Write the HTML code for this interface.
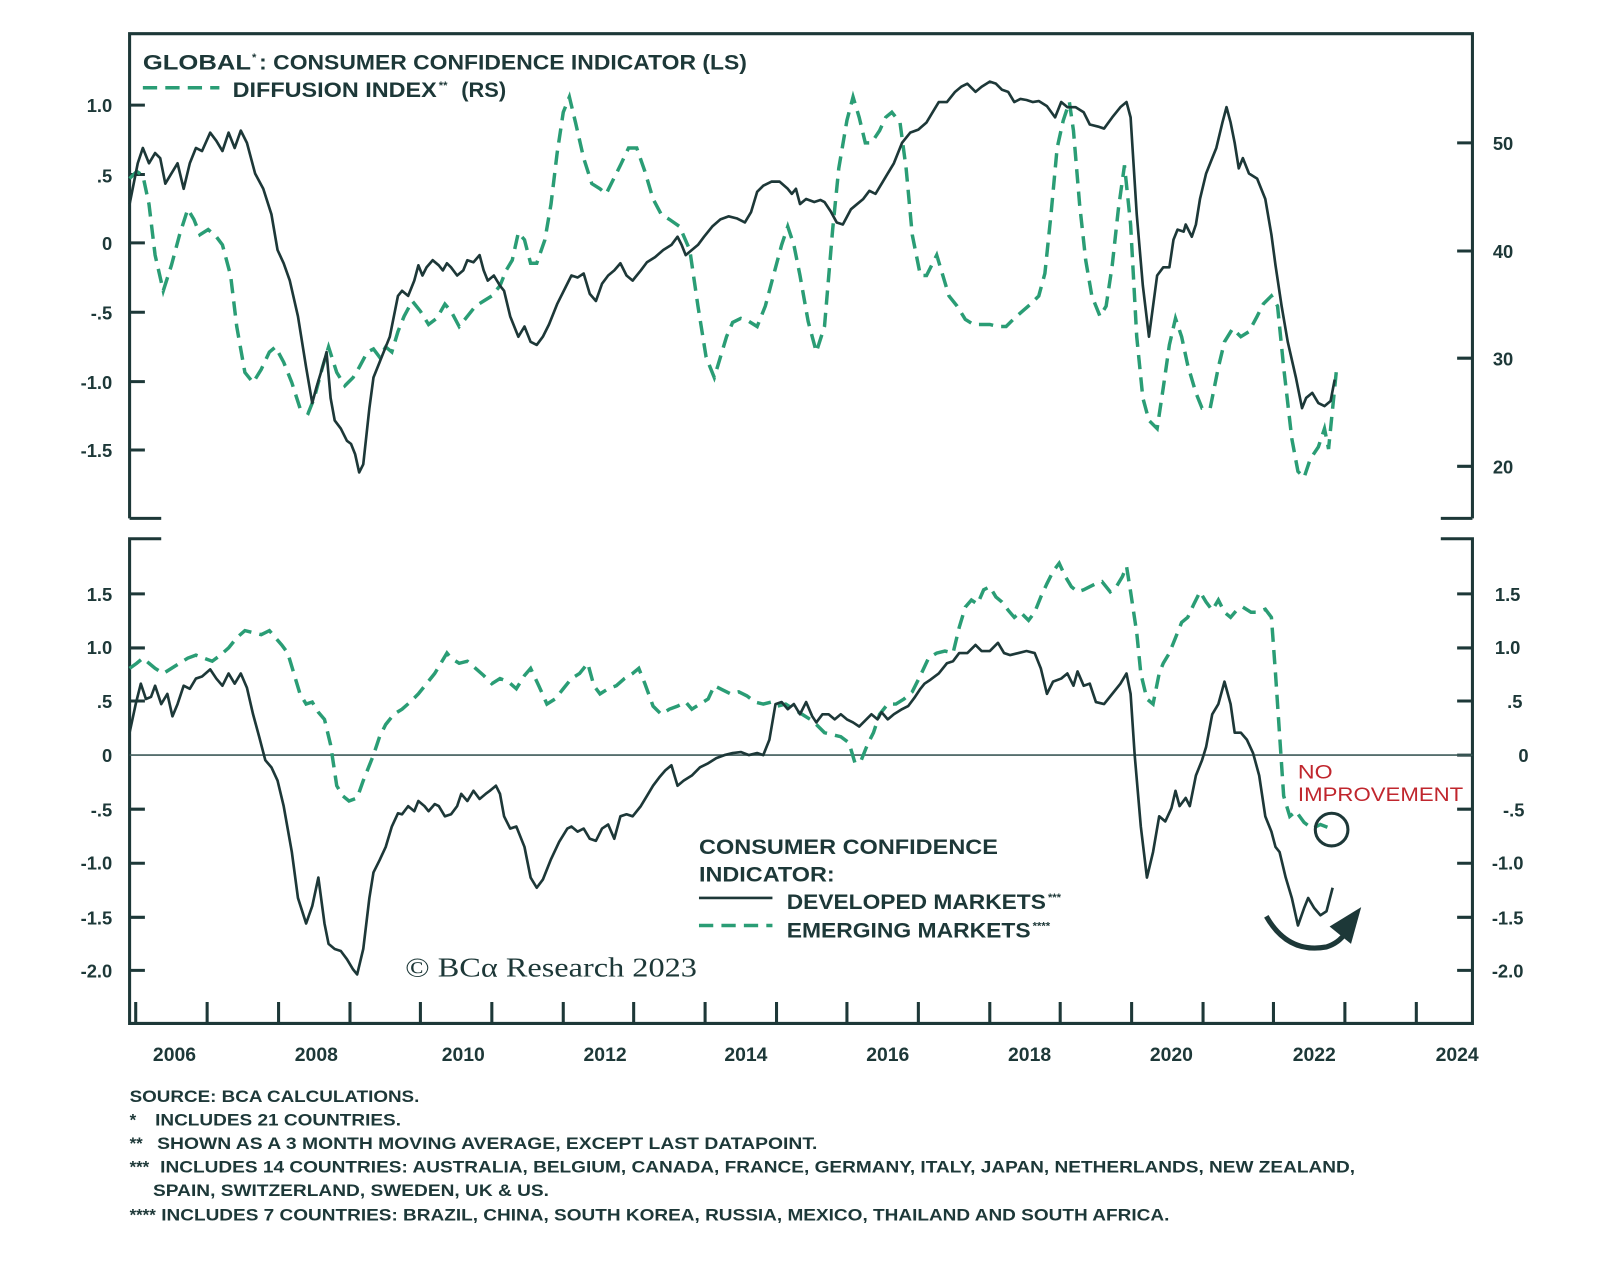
<!DOCTYPE html>
<html><head><meta charset="utf-8"><style>
html,body{margin:0;padding:0;background:#fff;}
svg{display:block;}
text{font-family:"Liberation Sans",sans-serif;fill:#1d3838;}
</style></head><body>
<svg width="1600" height="1288" viewBox="0 0 1600 1288" xmlns="http://www.w3.org/2000/svg">
<g transform="scale(1.0204)">
<g stroke="#1d3838" stroke-width="3" fill="none">
<path d="M127,508 V33 H1443 V508"/>
<path d="M127,508 H158 M1443,508 H1412"/>
<path d="M127,103 H142 M127,171 H142 M127,238 H142 M127,306 H142 M127,374 H142 M127,441 H142"/>
<path d="M1443,140 H1428 M1443,246 H1428 M1443,351 H1428 M1443,457 H1428"/>
<path d="M158,528 H127 V1003 H1443 V528 H1412"/>
<path d="M127,582 H142 M127,635 H142 M127,687 H142 M127,793 H142 M127,846 H142 M127,899 H142 M127,951 H142"/>
<path d="M1443,582 H1428 M1443,635 H1428 M1443,687 H1428 M1443,740 H1428 M1443,793 H1428 M1443,846 H1428 M1443,899 H1428 M1443,951 H1428"/>
<path d="M133,1003 V982 M203,1003 V982 M273,1003 V982 M343,1003 V982 M412,1003 V982 M482,1003 V982 M552,1003 V982 M621,1003 V982 M691,1003 V982 M761,1003 V982 M830,1003 V982 M900,1003 V982 M970,1003 V982 M1039,1003 V982 M1109,1003 V982 M1179,1003 V982 M1248,1003 V982 M1318,1003 V982 M1388,1003 V982"/>
</g>
<line x1="127" y1="740" x2="1443" y2="740" stroke="#3d5a58" stroke-width="1.6"/>

<polyline fill="none" stroke="#2a9d75" stroke-width="3.4" stroke-dasharray="14,8" points="127,175 134,168 140,172 146,200 152,250 160,285 168,260 176,230 184,205 190,215 196,230 204,225 212,232 218,240 226,270 232,320 240,365 248,375 256,362 264,345 270,340 278,355 286,375 294,400 302,405 308,390 316,360 322,340 330,365 338,378 346,370 352,360 360,345 366,342 372,350 378,340 384,345 390,325 396,310 404,295 412,305 420,318 428,312 436,298 442,305 450,320 458,310 466,300 474,295 482,290 490,280 496,265 502,255 508,228 514,235 520,258 526,258 534,235 540,200 546,150 552,110 558,95 564,120 572,155 580,180 588,185 594,190 600,178 608,162 616,145 624,145 632,168 640,195 648,210 656,215 666,222 676,245 684,300 692,350 700,370 706,350 712,330 718,316 726,312 734,315 742,320 750,300 758,270 766,240 772,222 778,240 784,270 792,315 800,345 808,320 816,225 822,165 830,118 836,95 842,115 848,140 854,140 862,128 868,115 874,110 882,120 888,165 894,230 902,270 908,270 914,258 918,250 924,270 930,290 938,300 946,313 954,318 962,318 970,318 978,320 986,320 994,312 1002,305 1010,298 1018,290 1024,268 1030,210 1036,145 1042,118 1048,100 1052,128 1058,200 1064,255 1070,290 1078,310 1084,300 1090,260 1096,205 1102,162 1108,220 1114,330 1120,390 1126,412 1134,420 1140,380 1146,338 1152,312 1158,330 1164,358 1172,385 1178,400 1186,400 1194,360 1200,335 1208,322 1216,330 1224,325 1232,310 1238,298 1246,290 1252,300 1258,360 1266,430 1272,462 1278,468 1284,450 1292,438 1298,420 1302,440 1306,400 1310,360"/>
<polyline fill="none" stroke="#1d3838" stroke-width="2.6" stroke-linejoin="round" points="127,200 135,160 140,145 146,160 152,150 157,155 162,180 168,170 174,160 180,185 186,160 192,145 198,148 206,130 212,138 218,148 224,130 230,145 236,128 242,140 250,170 258,185 266,210 272,245 278,258 284,275 292,310 300,360 306,395 310,380 316,360 320,345 324,390 328,412 334,420 340,432 344,435 348,445 352,463 356,455 362,400 366,370 372,355 378,340 382,330 390,290 394,285 400,290 406,275 410,260 414,270 418,262 424,255 430,260 434,265 438,258 442,262 448,270 454,265 458,255 464,257 470,250 474,265 478,275 484,270 490,280 494,285 500,310 508,330 514,320 520,335 526,338 532,330 538,318 546,298 554,282 560,270 566,272 572,268 578,288 584,295 590,278 596,270 602,265 608,258 614,270 620,275 628,265 634,257 642,252 650,245 658,240 664,232 668,240 672,250 678,245 684,240 690,232 698,222 706,215 714,212 722,214 730,218 736,208 742,188 748,182 756,178 764,178 772,185 776,190 780,185 784,200 790,195 798,198 804,196 808,198 814,207 820,218 826,220 834,205 840,200 846,195 852,187 858,190 864,180 870,170 876,160 884,140 892,130 900,127 908,120 914,110 920,100 928,100 936,90 942,85 948,82 956,90 962,85 970,80 976,82 982,88 988,90 994,100 1000,97 1006,98 1012,100 1018,99 1026,104 1034,115 1040,100 1046,105 1054,105 1062,110 1068,122 1076,124 1082,126 1090,115 1098,105 1104,100 1108,115 1114,210 1120,280 1126,330 1130,300 1134,270 1140,262 1146,262 1150,235 1154,225 1160,227 1162,220 1168,232 1172,220 1176,195 1182,170 1188,155 1192,145 1198,120 1202,105 1206,120 1210,140 1214,165 1218,155 1224,170 1232,175 1240,195 1246,230 1250,260 1256,300 1262,335 1270,370 1276,400 1280,390 1286,385 1292,395 1298,398 1304,393 1308,372"/>

<polyline fill="none" stroke="#2a9d75" stroke-width="3.4" stroke-dasharray="14,8" points="127,655 134,650 140,645 146,650 152,655 160,660 168,655 176,650 184,645 192,642 200,645 208,648 216,642 224,635 232,625 240,618 248,620 256,622 264,618 270,625 276,632 282,640 288,660 294,680 300,690 306,688 312,698 318,705 324,730 330,770 336,780 342,785 350,782 356,765 362,750 366,740 372,722 378,710 386,700 394,695 402,688 410,680 418,670 426,660 432,650 438,640 442,645 450,650 458,648 466,655 474,662 482,670 490,665 498,668 506,675 514,662 520,655 528,672 536,690 544,685 552,675 560,665 568,660 576,650 582,672 588,680 596,675 604,672 612,665 620,660 626,655 632,670 640,692 648,700 656,695 664,692 672,688 678,695 686,690 694,685 700,672 708,676 716,680 724,678 732,682 740,688 748,690 756,688 762,692 770,690 778,695 786,700 794,705 800,710 808,718 816,720 824,722 832,728 838,748 844,745 850,730 856,718 862,700 870,690 878,690 886,685 894,678 902,662 910,645 918,640 926,638 934,640 940,615 946,595 952,588 958,592 964,578 970,575 976,585 982,590 988,598 994,605 1000,600 1008,608 1014,600 1020,585 1026,572 1032,560 1038,552 1044,565 1050,575 1056,580 1062,578 1068,575 1074,572 1080,570 1088,580 1094,575 1100,565 1104,555 1108,580 1114,620 1118,660 1124,685 1130,690 1136,660 1140,650 1146,640 1152,625 1158,610 1164,605 1170,592 1176,580 1182,590 1188,598 1194,588 1200,600 1206,605 1212,598 1218,595 1226,600 1232,600 1240,597 1246,605 1250,660 1254,720 1258,780 1264,800 1270,795 1278,806 1286,812 1294,808 1304,812"/>
<polyline fill="none" stroke="#1d3838" stroke-width="2.6" stroke-linejoin="round" points="127,718 133,690 138,670 143,685 148,683 152,672 158,690 164,680 169,702 174,690 180,672 186,675 192,665 198,663 206,656 212,665 218,672 224,660 230,670 236,660 242,674 248,700 254,722 260,745 266,752 272,765 278,790 286,835 292,880 300,905 306,888 312,860 318,905 322,925 328,930 334,932 340,940 346,950 350,955 356,930 362,880 366,855 372,843 378,830 384,810 390,797 394,798 400,790 406,795 410,785 416,790 420,795 426,788 430,790 436,800 442,798 448,790 452,778 458,785 464,775 470,783 476,778 480,775 486,770 490,778 494,800 500,812 506,810 514,830 520,860 526,870 532,862 540,842 548,825 556,812 560,810 566,815 572,812 578,822 584,824 590,812 596,808 602,822 608,800 614,798 620,800 628,790 634,780 640,770 646,762 652,755 658,750 664,770 670,765 678,760 686,752 694,748 702,743 710,740 718,738 726,737 734,740 742,738 748,740 754,725 760,690 766,688 772,695 778,690 784,700 790,688 796,702 800,708 806,700 812,700 818,705 824,700 830,705 836,708 842,712 848,706 854,700 860,705 864,698 870,705 876,700 884,695 890,692 896,684 902,675 906,670 912,666 920,660 928,650 934,648 940,640 948,640 956,632 962,638 970,638 978,630 984,640 990,642 998,640 1006,638 1014,640 1020,655 1026,680 1032,668 1040,665 1046,660 1052,672 1056,658 1062,672 1068,670 1074,688 1082,690 1090,680 1098,670 1104,660 1108,680 1112,740 1118,810 1124,860 1130,835 1136,800 1142,805 1148,792 1152,775 1156,790 1162,782 1166,790 1172,760 1178,745 1182,732 1188,700 1194,690 1200,668 1206,690 1210,718 1216,718 1222,725 1228,738 1234,760 1240,800 1246,815 1250,830 1254,835 1260,860 1266,880 1272,907 1278,890 1282,880 1288,890 1294,897 1300,893 1306,870"/>

<circle cx="1305" cy="813" r="16" fill="none" stroke="#1d3838" stroke-width="3"/>
<path d="M1241,898 Q1262,935 1300,928 Q1312,924 1318,915" fill="none" stroke="#1d3838" stroke-width="5"/>
<path d="M1303,908 L1334,889 L1324,925 Z" fill="#1d3838"/>
<text x="1272" y="763" font-size="19" textLength="34" lengthAdjust="spacingAndGlyphs" style="fill:#c0262d">NO</text>
<text x="1272" y="785" font-size="19" textLength="162" lengthAdjust="spacingAndGlyphs" style="fill:#c0262d">IMPROVEMENT</text>

<g font-size="20.5" font-weight="bold">
<text x="140" y="68" textLength="106" lengthAdjust="spacingAndGlyphs">GLOBAL</text>
<text x="247" y="60" font-size="11">*</text>
<text x="254" y="68" textLength="478" lengthAdjust="spacingAndGlyphs">: CONSUMER CONFIDENCE INDICATOR (LS)</text>
<text x="228" y="95" textLength="200" lengthAdjust="spacingAndGlyphs">DIFFUSION INDEX</text>
<text x="430" y="87" font-size="11">**</text>
<text x="452" y="95" textLength="44" lengthAdjust="spacingAndGlyphs">(RS)</text>
<text x="685" y="837" textLength="293" lengthAdjust="spacingAndGlyphs">CONSUMER CONFIDENCE</text>
<text x="685" y="864" textLength="133" lengthAdjust="spacingAndGlyphs">INDICATOR:</text>
<text x="771" y="891" textLength="254" lengthAdjust="spacingAndGlyphs">DEVELOPED MARKETS</text>
<text x="1027" y="883" font-size="11">***</text>
<text x="771" y="919" textLength="239" lengthAdjust="spacingAndGlyphs">EMERGING MARKETS</text>
<text x="1012" y="911" font-size="11">****</text>
</g>
<line x1="140" y1="86" x2="215" y2="86" stroke="#2a9d75" stroke-width="3.4" stroke-dasharray="14,8"/>
<line x1="685" y1="880" x2="757" y2="880" stroke="#1d3838" stroke-width="2.6"/>
<line x1="685" y1="907" x2="757" y2="907" stroke="#2a9d75" stroke-width="3.4" stroke-dasharray="14,8"/>
<text x="397" y="957" font-size="27" textLength="286" lengthAdjust="spacingAndGlyphs" style="font-family:'Liberation Serif',serif">© BCα Research 2023</text>

<g font-size="18" font-weight="bold" text-anchor="end">
<text x="110" y="110">1.0</text><text x="110" y="179">.5</text><text x="110" y="245">0</text><text x="110" y="313">-.5</text><text x="110" y="381">-1.0</text><text x="110" y="448">-1.5</text>
<text x="110" y="589">1.5</text><text x="110" y="641">1.0</text><text x="110" y="694">.5</text><text x="110" y="747">0</text><text x="110" y="800">-.5</text><text x="110" y="852">-1.0</text><text x="110" y="906">-1.5</text><text x="110" y="958">-2.0</text>
</g>
<g font-size="18" font-weight="bold" text-anchor="start">
<text x="1463" y="147">50</text><text x="1463" y="253">40</text><text x="1463" y="358">30</text><text x="1463" y="464">20</text>
<text x="1465" y="589">1.5</text><text x="1465" y="641">1.0</text><text x="1477" y="694">.5</text><text x="1488" y="747">0</text><text x="1473" y="800">-.5</text><text x="1462" y="852">-1.0</text><text x="1462" y="906">-1.5</text><text x="1462" y="958">-2.0</text>
</g>
<g font-size="19" font-weight="bold" text-anchor="middle">
<text x="171" y="1040">2006</text><text x="310" y="1040">2008</text><text x="454" y="1040">2010</text><text x="593" y="1040">2012</text><text x="731" y="1040">2014</text><text x="870" y="1040">2016</text><text x="1009" y="1040">2018</text><text x="1148" y="1040">2020</text><text x="1288" y="1040">2022</text><text x="1428" y="1040">2024</text>
</g>
<g font-size="16.5" style="font-weight:600">
<text x="127" y="1080" textLength="284" lengthAdjust="spacingAndGlyphs">SOURCE: BCA CALCULATIONS.</text>
<text x="127" y="1103">*</text><text x="152" y="1103" textLength="241" lengthAdjust="spacingAndGlyphs">INCLUDES 21 COUNTRIES.</text>
<text x="127" y="1126">**</text><text x="154" y="1126" textLength="647" lengthAdjust="spacingAndGlyphs">SHOWN AS A 3 MONTH MOVING AVERAGE, EXCEPT LAST DATAPOINT.</text>
<text x="127" y="1149">***</text><text x="157" y="1149" textLength="1171" lengthAdjust="spacingAndGlyphs">INCLUDES 14 COUNTRIES: AUSTRALIA, BELGIUM, CANADA, FRANCE, GERMANY, ITALY, JAPAN, NETHERLANDS, NEW ZEALAND,</text>
<text x="150" y="1172" textLength="388" lengthAdjust="spacingAndGlyphs">SPAIN, SWITZERLAND, SWEDEN, UK &amp; US.</text>
<text x="127" y="1196">****</text><text x="158" y="1196" textLength="988" lengthAdjust="spacingAndGlyphs">INCLUDES 7 COUNTRIES: BRAZIL, CHINA, SOUTH KOREA, RUSSIA, MEXICO, THAILAND AND SOUTH AFRICA.</text>
</g>
</g>
</svg>
</body></html>
